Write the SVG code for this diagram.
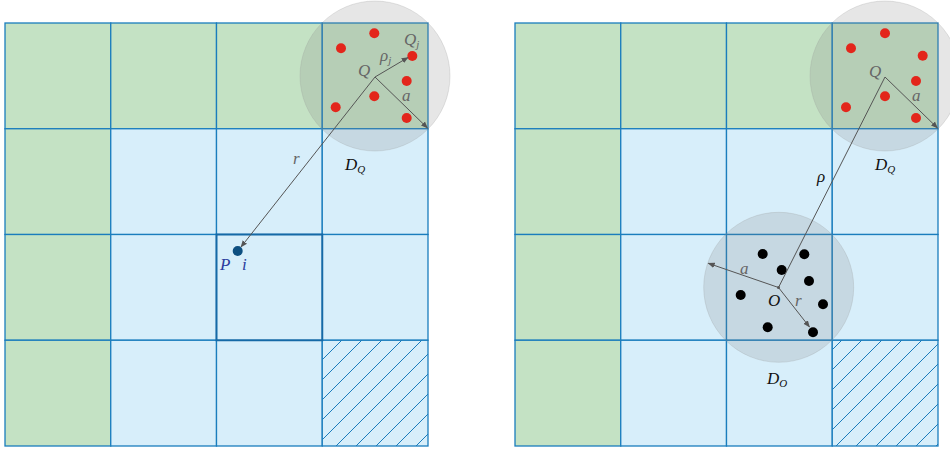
<svg xmlns="http://www.w3.org/2000/svg" width="950" height="450" viewBox="0 0 950 450">
<defs>
<style>
.g{fill:#c4e2c4;stroke:#1a7dbd;stroke-width:1.3}
.b{fill:#d7eefa;stroke:#1a7dbd;stroke-width:1.3}
.h{fill:url(#hatch);stroke:#1a7dbd;stroke-width:1.3}
.disc{fill:#808080;fill-opacity:0.2;stroke:#999;stroke-opacity:0.25}
.red{fill:#e3261b}
.blk{fill:#000}
.ln{stroke:#555;stroke-width:1;fill:none}
.arr{stroke:#555;stroke-width:1;fill:none;marker-end:url(#ah)}
.m{font-family:"Liberation Serif",serif;font-style:italic;font-size:17px;fill:#666}
.mb{font-family:"Liberation Serif",serif;font-style:italic;font-size:17px;fill:#111}
.sub{font-size:11px}
</style>
<pattern id="hatch" patternUnits="userSpaceOnUse" width="20" height="20" x="2" y="0">
<rect width="20" height="20" fill="#d7eefa"/>
<path d="M-5,25 L25,-5 M-5,5 L5,-5 M15,25 L25,15" stroke="#1a7dbd" stroke-width="1"/>
</pattern>
<marker id="ah" viewBox="0 0 10 10" refX="9" refY="5" markerWidth="7" markerHeight="7" orient="auto" markerUnits="userSpaceOnUse">
<path d="M0,1 L10,5 L0,9 z" fill="#555"/>
</marker>
</defs>
<rect width="950" height="450" fill="#fff"/>

<g id="left-grid">
<rect class="g" x="5" y="23" width="105.75" height="105.75"/>
<rect class="g" x="110.75" y="23" width="105.75" height="105.75"/>
<rect class="g" x="216.5" y="23" width="105.75" height="105.75"/>
<rect class="g" x="322.25" y="23" width="105.75" height="105.75"/>
<rect class="g" x="5" y="128.75" width="105.75" height="105.75"/>
<rect class="g" x="5" y="234.5" width="105.75" height="105.75"/>
<rect class="g" x="5" y="340.25" width="105.75" height="105.75"/>
<rect class="b" x="110.75" y="128.75" width="105.75" height="105.75"/>
<rect class="b" x="216.5" y="128.75" width="105.75" height="105.75"/>
<rect class="b" x="322.25" y="128.75" width="105.75" height="105.75"/>
<rect class="b" x="110.75" y="234.5" width="105.75" height="105.75"/>
<rect class="b" x="322.25" y="234.5" width="105.75" height="105.75"/>
<rect class="b" x="110.75" y="340.25" width="105.75" height="105.75"/>
<rect class="b" x="216.5" y="340.25" width="105.75" height="105.75"/>
<rect class="h" x="322.25" y="340.25" width="105.75" height="105.75"/>
<rect class="b" x="216.5" y="234.5" width="105.75" height="105.75" style="stroke:#1569a6;stroke-width:2"/>
</g>

<g id="right-grid">
<rect class="g" x="515" y="23" width="105.75" height="105.75"/>
<rect class="g" x="620.75" y="23" width="105.75" height="105.75"/>
<rect class="g" x="726.5" y="23" width="105.75" height="105.75"/>
<rect class="g" x="832.25" y="23" width="105.75" height="105.75"/>
<rect class="g" x="515" y="128.75" width="105.75" height="105.75"/>
<rect class="g" x="515" y="234.5" width="105.75" height="105.75"/>
<rect class="g" x="515" y="340.25" width="105.75" height="105.75"/>
<rect class="b" x="620.75" y="128.75" width="105.75" height="105.75"/>
<rect class="b" x="726.5" y="128.75" width="105.75" height="105.75"/>
<rect class="b" x="832.25" y="128.75" width="105.75" height="105.75"/>
<rect class="b" x="620.75" y="234.5" width="105.75" height="105.75"/>
<rect class="b" x="726.5" y="234.5" width="105.75" height="105.75"/>
<rect class="b" x="832.25" y="234.5" width="105.75" height="105.75"/>
<rect class="b" x="620.75" y="340.25" width="105.75" height="105.75"/>
<rect class="b" x="726.5" y="340.25" width="105.75" height="105.75"/>
<rect class="h" x="832.25" y="340.25" width="105.75" height="105.75"/>
</g>

<g id="DQ-left">
<circle class="disc" cx="375" cy="76" r="75"/>
<circle class="red" cx="374.3" cy="33.3" r="5"/>
<circle class="red" cx="341" cy="48.3" r="5"/>
<circle class="red" cx="412.3" cy="56" r="5"/>
<circle class="red" cx="406.7" cy="81" r="5"/>
<circle class="red" cx="374.3" cy="96.3" r="5"/>
<circle class="red" cx="335.7" cy="107.3" r="5"/>
<circle class="red" cx="406.7" cy="118" r="5"/>
<text class="m" x="358" y="76">Q</text>
<text class="m" x="404" y="45">Q<tspan class="sub" dy="3">j</tspan></text>
<text class="m" x="380" y="61">ρ<tspan class="sub" dy="3">j</tspan></text>
<text class="m" x="402" y="101">a</text>
<text class="mb" x="345" y="170">D<tspan class="sub" dy="3">Q</tspan></text>
</g>

<g id="P-node">
<circle cx="237.7" cy="251" r="5" fill="#0d4f80"/>
<text class="mb" x="220" y="270" style="fill:#2b3d9e">P</text>
<text class="mb" x="242" y="270" style="fill:#2b3d9e">i</text>
</g>

<g id="DQ-right">
<circle class="disc" cx="885" cy="76" r="75"/>
<circle class="red" cx="885" cy="33.3" r="5"/>
<circle class="red" cx="851" cy="48.3" r="5"/>
<circle class="red" cx="922.7" cy="55.7" r="5"/>
<circle class="red" cx="916" cy="81" r="5"/>
<circle class="red" cx="885" cy="96.3" r="5"/>
<circle class="red" cx="846" cy="107.3" r="5"/>
<circle class="red" cx="916" cy="118" r="5"/>
<text class="m" x="869" y="77">Q</text>
<text class="m" x="912" y="101">a</text>
<text class="mb" x="875" y="170">D<tspan class="sub" dy="3">Q</tspan></text>
</g>

<g id="DO">
<circle class="disc" cx="778.7" cy="287.3" r="75"/>
<circle class="blk" cx="762.7" cy="254" r="5"/>
<circle class="blk" cx="804.3" cy="254.3" r="5"/>
<circle class="blk" cx="781.7" cy="270" r="5"/>
<circle class="blk" cx="809" cy="281" r="5"/>
<circle class="blk" cx="740.7" cy="295" r="5"/>
<circle class="blk" cx="823" cy="304.3" r="5"/>
<circle class="blk" cx="767.7" cy="327.3" r="5"/>
<circle class="blk" cx="813" cy="332.3" r="5"/>
<circle cx="778.5" cy="287.5" r="1.5" fill="#555"/>
<text class="mb" x="768" y="306">O</text>
<text class="m" x="740" y="274">a</text>
<text class="m" x="795" y="306">r</text>
<text class="mb" x="767" y="384">D<tspan class="sub" dy="3">O</tspan></text>
</g>

<g id="connectors">
<path class="arr" d="M375,77 L408,57.5"/>
<path class="arr" d="M375,77 L427.5,128"/>
<path class="arr" d="M375,77 L241,247"/>
<text class="m" x="293" y="164">r</text>
<path class="arr" d="M885,77 L937.5,128"/>
<path class="ln" d="M885,77 L778.5,287.5"/>
<text class="mb" x="817" y="182">ρ</text>
<path class="arr" d="M778.5,287.5 L708.3,263.3"/>
<path class="arr" d="M778.5,287.5 L809.5,327"/>
</g>
</svg>
